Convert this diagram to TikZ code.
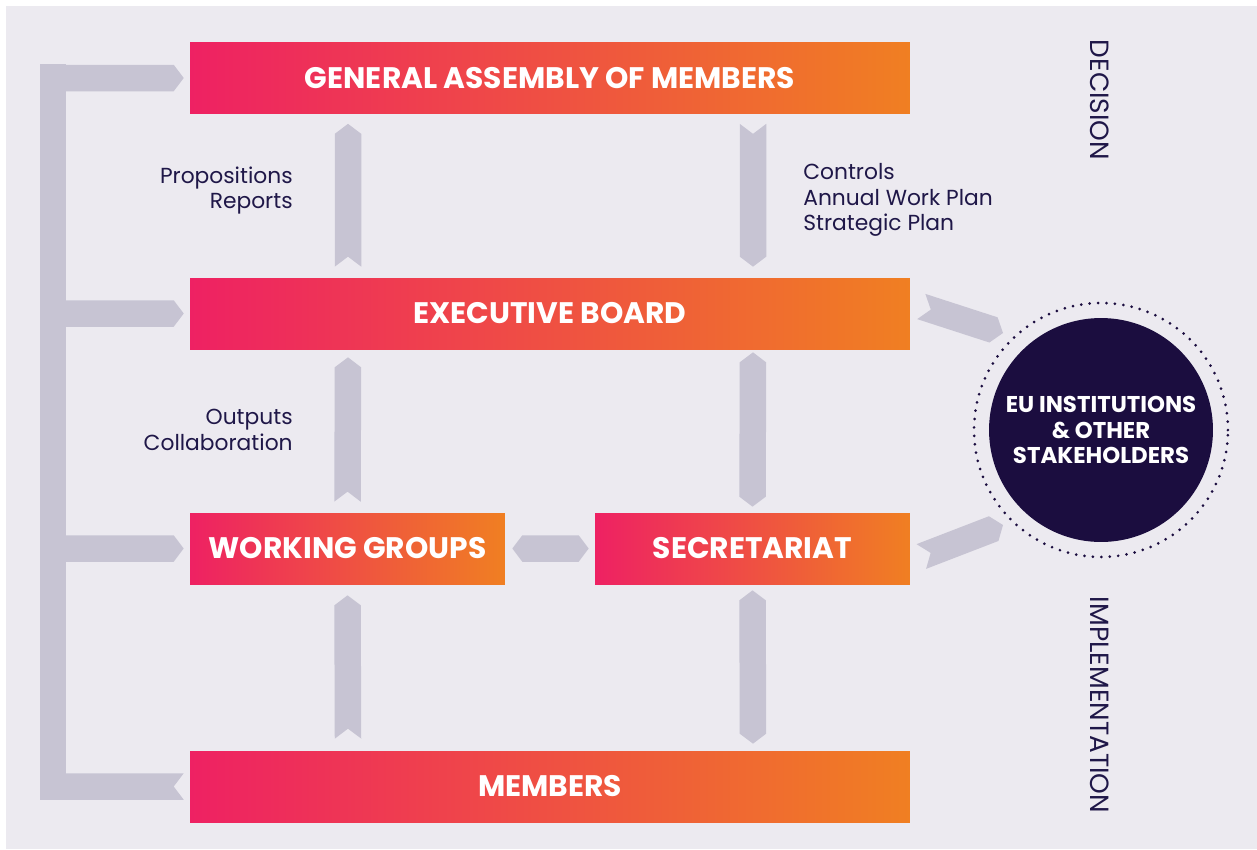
\documentclass[tikz,border=0pt]{standalone}
\usepackage{fontspec}
\setmainfont{Poppins}
\usetikzlibrary{calc}

\definecolor{pinkc}{HTML}{EE2163}
\definecolor{orangec}{HTML}{F07F22}
\definecolor{backc}{HTML}{ECEAF0}
\definecolor{fatgrey}{HTML}{C7C4D3}
\definecolor{navyc}{HTML}{1B0D3F}
\definecolor{inkc}{HTML}{1F1748}

% fat arrows: half width and head length
\def\fw{0.265cm}
\def\fh{0.2cm}
\newcommand\pA[4]{($ ($(#1)!#3!(#2)$)!\fw!#4:(#2) $)}
\newcommand\pB[4]{($ ($(#2)!#3!(#1)$)!\fw!#4:(#1) $)}
\newcommand\tailflat[3]{\pA{#1}{#2}{0cm}{90} -- #3 -- \pA{#1}{#2}{0cm}{-90}}
\newcommand\tailnotch[3]{\pA{#1}{#2}{0cm}{90} -- #3 -- \pA{#1}{#2}{0cm}{-90} -- ($(#1)!\fh!(#2)$)}
\newcommand\tailtip[3]{\pA{#1}{#2}{\fh}{90} -- #3 -- \pA{#1}{#2}{\fh}{-90} -- (#1)}
\newcommand\headflat[2]{\pB{#1}{#2}{0cm}{-90} -- \pB{#1}{#2}{0cm}{90}}
\newcommand\headtip[2]{\pB{#1}{#2}{\fh}{-90} -- (#2) -- \pB{#1}{#2}{\fh}{90}}
\newcommand\headnotch[2]{\pB{#1}{#2}{0cm}{-90} -- ($(#2)!\fh!(#1)$) -- \pB{#1}{#2}{0cm}{90}}
\newcommand\fatarrow[4]{\fill[fatgrey] #3{#1}{#2}{#4{#1}{#2}} -- cycle;}

\begin{document}
\begin{tikzpicture}[x=0.02cm, y=-0.02cm,
  box/.style={left color=pinkc, right color=orangec, text=white, inner sep=0pt,
    minimum height=1.42cm, font=\bfseries\fontsize{16.9}{20}\selectfont},
  lbl/.style={text=inkc, inner sep=0pt, font=\fontsize{12.4}{14.6}\selectfont},
  side/.style={text=inkc, inner sep=0pt, rotate=-90, font=\fontsize{15}{18}\selectfont}]
  \fill[white] (0,0) rectangle (1257,849);
  \fill[backc] (6,6) rectangle (1257,849);

  \node[box, minimum width=14.4cm] (ga) at (550,78) {GENERAL ASSEMBLY OF MEMBERS};
  \node[box, minimum width=14.4cm] (eb) at (550,313.5) {EXECUTIVE BOARD};
  \node[box, minimum width=6.3cm] (wg) at (347.5,548.5) {WORKING GROUPS};
  \node[box, minimum width=6.3cm] (sec) at (752.5,548.5) {SECRETARIAT};
  \node[box, minimum width=14.4cm] (mem) at (550,786.5) {MEMBERS};
  \node[circle, fill=navyc, text=white, minimum size=4.48cm, align=center,
    font=\bfseries\fontsize{13}{14.6}\selectfont] (eu) at (1101,430)
    {EU INSTITUTIONS\\\& OTHER\\STAKEHOLDERS};
  \draw[navyc, line width=1.7pt, line cap=round, dash pattern=on 0pt off 4.8pt]
    (eu.center) circle[radius=2.54cm];

  \node[lbl, align=right, anchor=east] (prop) at (293,190.5) {Propositions\\Reports};
  \node[lbl, align=left, anchor=west] (ctrl) at (803,200) {Controls\\Annual Work Plan\\Strategic Plan};
  \node[lbl, align=right, anchor=east] (outp) at (293,430) {Outputs\\Collaboration};
  \node[side] (dec) at (1100,100) {DECISION};
  \node[side] (impl) at (1100,705) {IMPLEMENTATION};

  % left bus and its branches
  \coordinate (bt) at (53,64);
  \coordinate (bb) at (53,800);
  \fatarrow{bt}{bb}{\tailflat}{\headflat}
  \foreach \n in {ga,eb,wg,mem} {
    \coordinate (\n a) at (bt |- \n.west);
    \coordinate (\n b) at ($(\n.west)+(-6,0)$);
  }
  \foreach \n in {ga,eb,wg} {
    \fatarrow{\n a}{\n b}{\tailflat}{\headtip}
  }
  \fatarrow{mema}{memb}{\tailflat}{\headnotch}

  % between the boxes
  \coordinate (g1) at ($(ga.south)+(-202,10)$);
  \coordinate (e1) at ($(eb.north)+(-202,-11)$);
  \coordinate (g2) at ($(ga.south)+(203,10)$);
  \coordinate (e2) at ($(eb.north)+(203,-11)$);
  \coordinate (e3) at ($(eb.south)+(-202,8)$);
  \coordinate (w1) at ($(wg.north)+(0,-11)$);
  \coordinate (e4) at ($(eb.south)+(203,3)$);
  \coordinate (s1) at ($(sec.north)+(0,-6)$);
  \coordinate (w2) at ($(wg.south)+(0,11)$);
  \coordinate (m1) at ($(mem.north)+(-202,-12)$);
  \coordinate (s2) at ($(sec.south)+(0,6)$);
  \coordinate (m2) at ($(mem.north)+(203,-7)$);
  \coordinate (w3) at ($(wg.east)+(7,0)$);
  \coordinate (s3) at ($(sec.west)+(-6,0)$);
  \fatarrow{e1}{g1}{\tailnotch}{\headtip}
  \fatarrow{g2}{e2}{\tailnotch}{\headtip}
  \fatarrow{w1}{e3}{\tailnotch}{\headtip}
  \fatarrow{e4}{s1}{\tailtip}{\headtip}
  \fatarrow{m1}{w2}{\tailnotch}{\headtip}
  \fatarrow{s2}{m2}{\tailtip}{\headtip}
  \fatarrow{w3}{s3}{\tailtip}{\headtip}

  % out to the stakeholders
  \coordinate (e5) at ($(eb.east)+(11,-7)$);
  \coordinate (u1) at ($(eu.center)+(-98,-97)$);
  \coordinate (s4) at ($(sec.east)+(11,8)$);
  \coordinate (u2) at ($(eu.center)+(-98,95)$);
  \fatarrow{e5}{u1}{\tailnotch}{\headtip}
  \fatarrow{s4}{u2}{\tailnotch}{\headtip}
\end{tikzpicture}
\end{document}
